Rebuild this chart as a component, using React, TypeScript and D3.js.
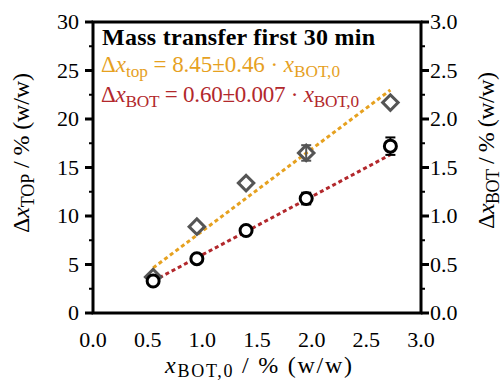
import React, { useEffect, useRef } from "react";
import * as d3 from "d3";

// x_BOT,0 in % (w/w)
const xBot0 = [0.55, 0.95, 1.4, 1.95, 2.72];
// delta x TOP (left axis)
const dxTop = [3.7, 8.9, 13.4, 16.5, 21.7];
const dxTopErr = [0, 0, 0, 0.8, 0];
// delta x BOT (right axis)
const dxBot = [0.33, 0.56, 0.85, 1.18, 1.72];
const dxBotErr = [0.02, 0.02, 0.03, 0.06, 0.09];

const slopeTop = 8.45;
const slopeBot = 0.6;

const xTicks = [0, 0.5, 1, 1.5, 2, 2.5, 3];
const yLeftTicks = [0, 5, 10, 15, 20, 25, 30];
const yRightTicks = [0, 0.5, 1, 1.5, 2, 2.5, 3];

const FONT = "'Liberation Serif', 'DejaVu Serif', serif";
const ORANGE = "#e6a11f";
const RED = "#b2282c";

const App = () => {
  const ref = useRef<SVGGElement>(null);

  useEffect(() => {
    const svg = d3.select(ref.current);
    svg.selectAll("*").remove();

    const left = 93, right = 421, top = 22, bottom = 313;

    const x = d3.scaleLinear().domain([0, 3]).range([left, right]);
    const yL = d3.scaleLinear().domain([0, 30]).range([bottom, top]);
    const yR = d3.scaleLinear().domain([0, 3]).range([bottom, top]);

    const g = svg.append("g");

    // fit lines
    const xr = [xBot0[0], xBot0[xBot0.length - 1]];
    const line = d3.line<number[]>().x((d) => d[0]).y((d) => d[1]);
    g.append("path")
      .attr("d", line(xr.map((v) => [x(v), yL(slopeTop * v)])))
      .attr("stroke", ORANGE)
      .attr("stroke-width", 3)
      .attr("stroke-dasharray", "4,3")
      .attr("fill", "none");
    g.append("path")
      .attr("d", line(xr.map((v) => [x(v), yR(slopeBot * v)])))
      .attr("stroke", RED)
      .attr("stroke-width", 3)
      .attr("stroke-dasharray", "4,3")
      .attr("fill", "none");

    // error bars
    const errBar = (cx: number, y1: number, y2: number, color: string) => {
      if (Math.abs(y1 - y2) < 1) return;
      g.append("line").attr("x1", cx).attr("x2", cx).attr("y1", y1).attr("y2", y2)
        .attr("stroke", color).attr("stroke-width", 2);
      [y1, y2].forEach((yy) =>
        g.append("line").attr("x1", cx - 5).attr("x2", cx + 5).attr("y1", yy).attr("y2", yy)
          .attr("stroke", color).attr("stroke-width", 2)
      );
    };
    xBot0.forEach((v, i) => {
      errBar(x(v), yL(dxTop[i] - dxTopErr[i]), yL(dxTop[i] + dxTopErr[i]), "#555");
    });

    // diamonds
    const diamond = d3.symbol().type(d3.symbolSquare).size(120);
    g.selectAll(".dia")
      .data(xBot0)
      .enter()
      .append("path")
      .attr("d", diamond)
      .attr("transform", (d, i) => `translate(${x(d)},${yL(dxTop[i])}) rotate(45)`)
      .attr("fill", "none")
      .attr("stroke", "#555")
      .attr("stroke-width", 3);

    xBot0.forEach((v, i) => {
      errBar(x(v), yR(dxBot[i] - dxBotErr[i]), yR(dxBot[i] + dxBotErr[i]), "#000");
    });

    // circles
    g.selectAll(".circ")
      .data(xBot0)
      .enter()
      .append("circle")
      .attr("cx", (d) => x(d))
      .attr("cy", (d, i) => yR(dxBot[i]))
      .attr("r", 6)
      .attr("fill", "#fff")
      .attr("stroke", "#000")
      .attr("stroke-width", 3);

    // frame
    svg.append("rect")
      .attr("x", left).attr("y", top)
      .attr("width", right - left).attr("height", bottom - top)
      .attr("fill", "none").attr("stroke", "#000").attr("stroke-width", 3);

    // left ticks
    const minorL = d3.range(2.5, 30, 5);
    yLeftTicks.forEach((t) => {
      svg.append("line").attr("x1", left - 8).attr("x2", left).attr("y1", yL(t)).attr("y2", yL(t))
        .attr("stroke", "#000").attr("stroke-width", 3);
      svg.append("text").attr("x", left - 14).attr("y", yL(t) + 7)
        .attr("text-anchor", "end").attr("font-family", FONT).attr("font-size", 22).text(t);
    });
    minorL.forEach((t) => {
      svg.append("line").attr("x1", left - 4).attr("x2", left).attr("y1", yL(t)).attr("y2", yL(t))
        .attr("stroke", "#000").attr("stroke-width", 2);
    });

    // right ticks
    const minorR = d3.range(0.25, 3, 0.5);
    yRightTicks.forEach((t) => {
      svg.append("line").attr("x1", right).attr("x2", right + 8).attr("y1", yR(t)).attr("y2", yR(t))
        .attr("stroke", "#000").attr("stroke-width", 3);
      svg.append("text").attr("x", right + 9).attr("y", yR(t) + 7)
        .attr("text-anchor", "start").attr("font-family", FONT).attr("font-size", 22).text(d3.format(".1f")(t));
    });
    minorR.forEach((t) => {
      svg.append("line").attr("x1", right).attr("x2", right + 4).attr("y1", yR(t)).attr("y2", yR(t))
        .attr("stroke", "#000").attr("stroke-width", 2);
    });

    // bottom tick labels
    xTicks.forEach((t) => {
      svg.append("text").attr("x", x(t)).attr("y", 347)
        .attr("text-anchor", "middle").attr("font-family", FONT).attr("font-size", 22).text(d3.format(".1f")(t));
    });
  }, []);

  const sub = { fontSize: "75%" };

  return (
    <svg
      width={503}
      height={382}
      style={{ position: "absolute", left: 0, top: 0, background: "#fff" }}
    >
      <g ref={ref} />
      <g fontFamily={FONT}>
        <text x={102} y={45} fontSize={24} fontWeight="bold" textLength={273}>
          Mass transfer first 30 min
        </text>
        <text x={101} y={72} fontSize={23} fill={ORANGE} textLength={239}>
          Δ<tspan fontStyle="italic">x</tspan>
          <tspan dy={5} style={sub}>top</tspan>
          <tspan dy={-5}> = 8.45±0.46 · </tspan>
          <tspan fontStyle="italic">x</tspan>
          <tspan dy={5} style={sub}>BOT,0</tspan>
        </text>
        <text x={101} y={102} fontSize={23} fill={RED} textLength={258}>
          Δ<tspan fontStyle="italic">x</tspan>
          <tspan dy={5} style={sub}>BOT</tspan>
          <tspan dy={-5}> = 0.60±0.007 · </tspan>
          <tspan fontStyle="italic">x</tspan>
          <tspan dy={5} style={sub}>BOT,0</tspan>
        </text>
        <text x={165} y={373} fontSize={24} textLength={187}>
          <tspan fontStyle="italic">x</tspan>
          <tspan dy={4} style={sub}>BOT,0</tspan>
          <tspan dy={-4}> / % (w/w)</tspan>
        </text>
        <text transform="translate(29,233) rotate(-90)" fontSize={24} textLength={160}>
          Δ<tspan fontStyle="italic">x</tspan>
          <tspan dy={5} style={sub}>TOP</tspan>
          <tspan dy={-5}>  / % (w/w)</tspan>
        </text>
        <text transform="translate(494,229) rotate(-90)" fontSize={24} textLength={157}>
          Δ<tspan fontStyle="italic">x</tspan>
          <tspan dy={5} style={sub}>BOT</tspan>
          <tspan dy={-5}>  / % (w/w)</tspan>
        </text>
      </g>
    </svg>
  );
};

export default App;
